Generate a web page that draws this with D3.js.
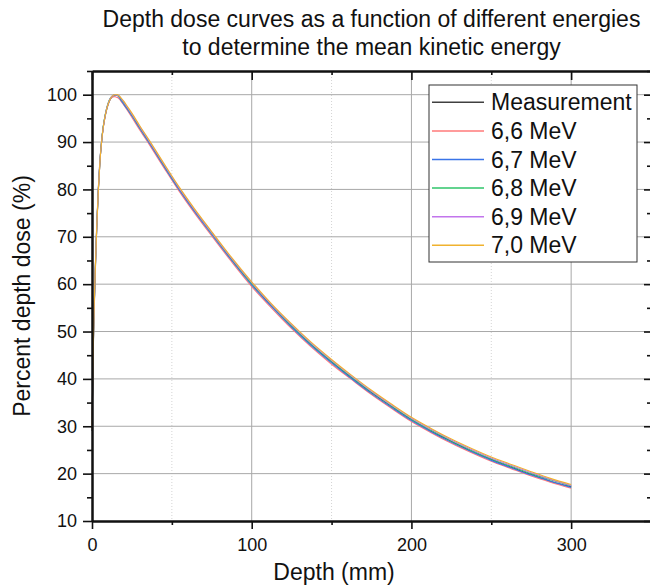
<!DOCTYPE html>
<html>
<head>
<meta charset="utf-8">
<script src="https://cdn.jsdelivr.net/npm/d3@7"></script>
<style>
  body { margin: 0; background: #fff; }
  svg { font-family: "Liberation Sans", Arial, sans-serif; }
</style>
</head>
<body>
<svg id="chart" width="650" height="585"></svg>
<script>
// depth in mm
var depth = [0,0.5,1,2,3,4,5,6,7,8,9,10,11,12,13,14,15,16,17,18,20,22,25,30,36,45,54,64,74,87,100,112,125,137,150,162,175,187,200,212,225,237,250,262,275,287,300];

var measurement = [29,40,49.5,62,72,80,86,90,93,95,96.6,97.8,98.7,99.3,99.7,99.9,100,99.9,99.6,99.2,98.3,97.2,95.7,93.0,89.9,85.1,80.4,75.6,71.3,65.4,60.1,55.6,51.1,47.3,43.6,40.4,37.1,34.3,31.4,29.0,26.8,24.8,23.0,21.4,19.8,18.4,17.2];
var mev66 = [30,41,50.5,63,73,80.5,86.3,90.2,93,95.2,96.8,97.9,98.8,99.3,99.5,99.6,99.5,99.4,99.1,98.7,97.8,96.8,95.2,92.5,89.4,84.6,79.9,75.1,70.6,64.9,59.5,55.1,50.6,46.8,43.1,40.0,36.7,33.9,31.0,28.7,26.4,24.5,22.6,21.1,19.5,18.2,16.9];
var mev67 = [29.5,40.5,50,62.5,72.5,80.3,86.2,90.1,93.1,95.2,96.8,98,98.9,99.4,99.7,99.9,99.9,99.8,99.4,98.9,97.9,97.0,95.5,92.8,89.7,84.9,80.2,75.4,70.9,65.2,59.8,55.4,50.9,47.1,43.4,40.2,36.9,34.1,31.2,28.9,26.6,24.7,22.8,21.3,19.7,18.4,17.1];
var mev68 = [29.8,40.8,50.2,62.8,72.6,80.2,86.1,90.2,93.2,95.3,96.9,98.1,99,99.5,99.8,100,100,99.9,99.6,99.2,98.3,97.3,95.8,93.1,90.0,85.2,80.5,75.7,71.2,65.5,60.1,55.7,51.2,47.4,43.7,40.5,37.2,34.4,31.5,29.2,26.9,25.0,23.1,21.6,20.0,18.7,17.4];
var mev69 = [29.6,40.6,50.1,62.6,72.4,80.1,86.0,90.0,93.0,95.1,96.8,98,98.9,99.5,99.8,100,100,99.9,99.7,99.3,98.4,97.4,95.9,93.2,90.1,85.3,80.6,75.8,71.3,65.6,60.3,55.8,51.4,47.6,43.9,40.7,37.4,34.6,31.7,29.4,27.1,25.2,23.3,21.8,20.2,18.8,17.5];
var mev70 = [29.4,40.4,50,62.4,72.3,80,85.9,90,93,95.1,96.7,97.9,98.8,99.4,99.8,100,100,100,99.8,99.4,98.6,97.6,96.1,93.4,90.3,85.5,80.8,76.0,71.5,65.8,60.5,56.0,51.6,47.8,44.1,40.9,37.6,34.8,31.9,29.6,27.3,25.4,23.5,22.0,20.4,19.0,17.7];

var seriesNames = ["Measurement", "6,6 MeV", "6,7 MeV", "6,8 MeV", "6,9 MeV", "7,0 MeV"];
var seriesValues = [measurement, mev66, mev67, mev68, mev69, mev70];
var seriesColors = ["#404040", "#ff7a7a", "#3a74e8", "#2fc46a", "#c275ec", "#f0b22e"];

var xTicks = [0, 100, 200, 300];
var xMinor = [50, 150, 250, 350];
var yTicks = [10, 20, 30, 40, 50, 60, 70, 80, 90, 100];
var yMinor = [15, 25, 35, 45, 55, 65, 75, 85, 95, 105];

var titleLines = ["Depth dose curves as a function of different energies", "to determine the mean kinetic energy"];

var margin = {top: 71, right: -1, bottom: 64, left: 92},
    width = 650 - margin.left - margin.right,
    height = 585 - margin.top - margin.bottom;

var svg = d3.select("#chart");
var g = svg.append("g").attr("transform", "translate(" + margin.left + "," + margin.top + ")");

var x = d3.scaleLinear().domain([0, 350]).range([0, width]);
var y = d3.scaleLinear().domain([10, 105]).range([height, 0]);

// grid
g.selectAll(".minorgrid")
  .data([50, 150, 250])
  .enter().append("line")
  .attr("x1", function(d) { return x(d); })
  .attr("x2", function(d) { return x(d); })
  .attr("y1", 0).attr("y2", height)
  .attr("stroke", "#d4d4d4")
  .attr("stroke-dasharray", "1,2");

g.selectAll(".xgrid")
  .data([100, 200, 300])
  .enter().append("line")
  .attr("x1", function(d) { return x(d); })
  .attr("x2", function(d) { return x(d); })
  .attr("y1", 0).attr("y2", height)
  .attr("stroke", "#a8a8a8");

g.selectAll(".ygrid")
  .data([20, 30, 40, 50, 60, 70, 80, 90, 100])
  .enter().append("line")
  .attr("x1", 0).attr("x2", width)
  .attr("y1", function(d) { return y(d); })
  .attr("y2", function(d) { return y(d); })
  .attr("stroke", "#a8a8a8");

// curves
var line = d3.line()
  .x(function(d) { return x(d[0]); })
  .y(function(d) { return y(d[1]); })
  .curve(d3.curveMonotoneX);

seriesValues.forEach(function(vals, i) {
  g.append("path")
    .datum(depth.map(function(dd, k) { return [dd, vals[k]]; }))
    .attr("fill", "none")
    .attr("stroke", seriesColors[i])
    .attr("stroke-width", 1.1)
    .attr("d", line);
});

// axes
function styleAxis(sel) {
  sel.select(".domain").attr("stroke", "#111").attr("stroke-width", 2);
  sel.selectAll(".tick line").attr("stroke", "#111").attr("stroke-width", 1.6);
  sel.selectAll("text").attr("fill", "#111").style("font-size", "18px")
    .style("font-family", "'Liberation Sans', Arial, sans-serif");
}

var xAxis = g.append("g")
  .attr("transform", "translate(0," + height + ")")
  .call(d3.axisBottom(x).tickValues(xTicks).tickSize(8).tickPadding(9).tickSizeOuter(0));
styleAxis(xAxis);
g.append("g")
  .attr("transform", "translate(0," + height + ")")
  .call(d3.axisBottom(x).tickValues(xMinor).tickSize(4).tickFormat("").tickSizeOuter(0))
  .call(styleAxis);

var yAxis = g.append("g")
  .call(d3.axisLeft(y).tickValues(yTicks).tickSize(9).tickPadding(6).tickSizeOuter(0));
styleAxis(yAxis);
g.append("g")
  .call(d3.axisLeft(y).tickValues(yMinor).tickSize(5).tickFormat("").tickSizeOuter(0))
  .call(styleAxis);

// top and right axes, ticks inward
g.append("g")
  .call(d3.axisBottom(x).tickValues(xTicks).tickSize(9).tickFormat("").tickSizeOuter(0))
  .call(styleAxis);
g.append("g")
  .call(d3.axisBottom(x).tickValues(xMinor).tickSize(4).tickFormat("").tickSizeOuter(0))
  .call(styleAxis);
g.append("g")
  .attr("transform", "translate(" + width + ",0)")
  .call(d3.axisLeft(y).tickValues(yTicks).tickSize(7).tickFormat("").tickSizeOuter(0))
  .call(styleAxis);
g.append("g")
  .attr("transform", "translate(" + width + ",0)")
  .call(d3.axisLeft(y).tickValues(yMinor).tickSize(4).tickFormat("").tickSizeOuter(0))
  .call(styleAxis);

// titles
svg.append("g").selectAll("text")
  .data(titleLines)
  .enter().append("text")
  .attr("x", margin.left + width / 2)
  .attr("y", function(d, i) { return 27 + i * 28; })
  .attr("text-anchor", "middle")
  .style("font-size", "23px")
  .attr("fill", "#111")
  .text(function(d) { return d; });

svg.append("text")
  .attr("x", margin.left + 242)
  .attr("y", 580)
  .attr("text-anchor", "middle")
  .style("font-size", "23px")
  .attr("fill", "#111")
  .text("Depth (mm)");

svg.append("text")
  .attr("transform", "translate(30," + (margin.top + height / 2) + ") rotate(-90)")
  .attr("text-anchor", "middle")
  .style("font-size", "23px")
  .attr("fill", "#111")
  .text("Percent depth dose (%)");

// legend
var legend = svg.append("g").attr("transform", "translate(429,85)");
legend.append("rect")
  .attr("width", 208).attr("height", 177)
  .attr("fill", "#fff")
  .attr("stroke", "#333").attr("stroke-width", 1);

var items = legend.selectAll(".item")
  .data(seriesNames)
  .enter().append("g")
  .attr("transform", function(d, i) { return "translate(0," + (17.3 + i * 28.6) + ")"; });
items.append("line")
  .attr("x1", 3).attr("x2", 55)
  .attr("stroke", function(d, i) { return seriesColors[i]; })
  .attr("stroke-width", 1.5);
items.append("text")
  .attr("x", 62).attr("y", 8)
  .style("font-size", "23px")
  .attr("fill", "#111")
  .text(function(d) { return d; });
</script>
</body>
</html>
